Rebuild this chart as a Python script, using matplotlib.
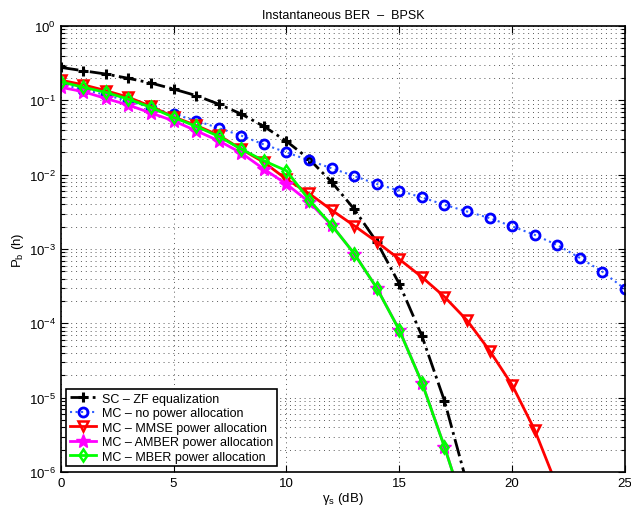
import numpy as np
import matplotlib
matplotlib.use("Agg")
import matplotlib.pyplot as plt

# ---- data -------------------------------------------------------
snr_db = np.arange(0, 26)

sc_zf = [0.278, 0.25, 0.226, 0.198, 0.171, 0.142, 0.116, 0.089, 0.0655, 0.0447,
         0.0282, 0.0163, 0.0080, 0.00345, 0.00125, 0.00034, 6.8e-5, 9.1e-6, 7e-7]

mc_none = [0.165, 0.14, 0.118, 0.098, 0.080, 0.0655, 0.0532, 0.0424, 0.0335, 0.0255,
           0.0200, 0.0156, 0.0122, 0.0096, 0.0075, 0.0061, 0.00495, 0.00394, 0.0032,
           0.00261, 0.00202, 0.00155, 0.00113, 0.00076, 0.000495, 0.00029]

mc_mmse = [0.187, 0.162, 0.135, 0.110, 0.083, 0.060, 0.046, 0.034, 0.022, 0.0147,
           0.0087, 0.0056, 0.00335, 0.00206, 0.00125, 0.00073, 0.00042, 0.000228,
           0.00011, 4.3e-5, 1.48e-5, 3.67e-6, 6.3e-7]

mc_amber = [0.15, 0.131, 0.106, 0.0865, 0.0676, 0.053, 0.039, 0.0286, 0.0196, 0.0119,
            0.0075, 0.0043, 0.0021, 0.00087, 0.0003, 8.2e-5, 1.6e-5, 2.2e-6, 2.5e-7]

mc_mber = [0.178, 0.15, 0.128, 0.104, 0.0805, 0.059, 0.0447, 0.0328, 0.0221, 0.0154,
           0.0113, 0.0046, 0.0021, 0.00087, 0.0003, 8.1e-5, 1.6e-5, 2.19e-6, 2.5e-7]

labels = ["SC \u2013 ZF equalization",
          "MC \u2013 no power allocation",
          "MC \u2013 MMSE power allocation",
          "MC \u2013 AMBER power allocation",
          "MC \u2013 MBER power allocation"]

# ---- plot ------------------------------
plt.rcParams['font.family'] = ['Liberation Sans', 'DejaVu Sans']
plt.rcParams['mathtext.fontset'] = 'custom'
plt.rcParams['mathtext.rm'] = 'Liberation Sans'
plt.rcParams['mathtext.it'] = 'Liberation Sans:italic'

fig = plt.figure(figsize=(6.31, 5.10), dpi=100)
ax = fig.add_axes([0.0962, 0.0725, 0.8943, 0.8745])

def n(v):
    return snr_db[:len(v)]

ax.semilogy(n(sc_zf), sc_zf, '-.', color='k', lw=2, marker='+',
            ms=7, mew=2.2, label=labels[0])
ax.semilogy(n(mc_none), mc_none, ':', color='#3060ff', lw=1.5, marker='o',
            ms=6.5, mew=2, mfc='none', mec='#0000ff', label=labels[1])
ax.semilogy(n(mc_mmse), mc_mmse, '-', color='#ff0000', lw=2, marker='v',
            ms=7.5, mew=1.8, mfc='none', label=labels[2])
ax.semilogy(n(mc_amber), mc_amber, '-', color='#ff00ff', lw=2, marker='*',
            ms=10, mew=1, label=labels[3])
ax.semilogy(n(mc_mber), mc_mber, '-', color='#00ff00', lw=2, marker='d',
            ms=6.5, mew=1.8, mfc='none', label=labels[4])

ax.set_xlim(0, 25)
ax.set_ylim(1e-6, 1)
ax.set_xticks([0, 5, 10, 15, 20, 25])

grid_style = dict(color='0.35', linestyle=(0, (1, 4)), linewidth=0.7)
ax.grid(True, which='major', axis='both', **grid_style)
ax.grid(True, which='minor', axis='y', **grid_style)
ax.tick_params(which='both', direction='in', top=True, right=True,
               labelsize=9.5, width=0.8)
ax.tick_params(which='major', length=5)
ax.tick_params(which='minor', length=3)
for s in ax.spines.values():
    s.set_linewidth(1.2)

ax.set_title("Instantaneous BER  \u2013  BPSK", fontsize=9, pad=6)
ax.set_xlabel("\u03b3$_\\mathregular{s}$ (dB)", fontsize=9.5, labelpad=1)
ax.set_ylabel("P$_\\mathregular{b}$ (h)", fontsize=9.5, labelpad=2)

leg = ax.legend(loc='lower left', fontsize=9, handlelength=2.1,
                handletextpad=0.45, borderaxespad=0.45, labelspacing=0.2,
                borderpad=0.3, fancybox=False, framealpha=1, edgecolor='k')
leg.get_frame().set_linewidth(1.2)

fig.savefig("out.png", dpi=100)
